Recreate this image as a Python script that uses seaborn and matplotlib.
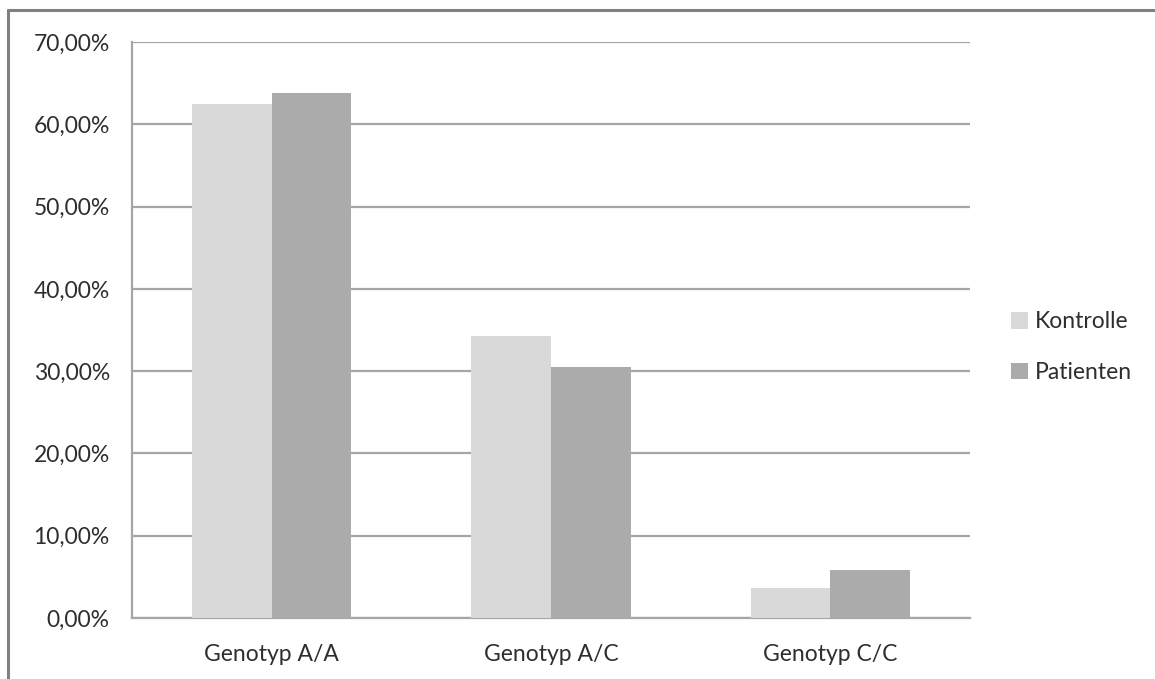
import matplotlib
matplotlib.use("Agg")
import matplotlib.pyplot as plt
from matplotlib.lines import Line2D
from matplotlib.ticker import FuncFormatter, FixedLocator
import seaborn as sns
import pandas as pd

# Genotype frequencies (percent) per group
genotypes = ["Genotyp A/A", "Genotyp A/C", "Genotyp C/C"]
kontrolle = [62.5, 34.3, 3.6]
patienten = [63.8, 30.5, 5.8]
groups = ["Kontrolle", "Patienten"]
y_ticks = [0, 10, 20, 30, 40, 50, 60, 70]

df = pd.DataFrame({
    "Genotyp": genotypes * 2,
    "Anteil": kontrolle + patienten,
    "Gruppe": [groups[0]] * len(genotypes) + [groups[1]] * len(genotypes),
})

sns.set_style("white")
plt.rcParams["font.family"] = ["Lato", "DejaVu Sans"]

W, H = 1155, 679
fig = plt.figure(figsize=(W / 100, H / 100), dpi=100)
ax = fig.add_axes([132 / W, 1 - 618 / H, (970 - 132) / W, (618 - 42) / H])

sns.barplot(
    data=df, x="Genotyp", y="Anteil", hue="Gruppe", ax=ax,
    palette={"Kontrolle": "#d9d9d9", "Patienten": "#ababab"},
    saturation=1, width=0.57, legend=True, zorder=3, linewidth=0,
)

grid_c = "#a6a6a6"
text_c = "#2e2e2e"
fs = 16.5
ax.set_xlim(-0.5, 2.5)
ax.set_ylim(0, 70)
ax.yaxis.set_major_locator(FixedLocator(y_ticks))
ax.yaxis.set_major_formatter(FuncFormatter(lambda v, _: f"{v:.2f}%".replace(".", ",")))
ax.grid(axis="y", color=grid_c, linewidth=1.6, zorder=0)
ax.set_axisbelow(True)

ax.set_xlabel("")
ax.set_ylabel("")
for s in ["top", "right"]:
    ax.spines[s].set_visible(False)
for s in ["left", "bottom"]:
    ax.spines[s].set_color(grid_c)
    ax.spines[s].set_linewidth(1.6)

ax.tick_params(axis="y", which="major", length=6, width=1.6, color=grid_c,
               labelsize=fs, labelcolor=text_c, pad=10)
ax.set_xticks([-0.5, 0.5, 1.5, 2.5], minor=True)
ax.tick_params(axis="x", which="minor", length=8, width=1.6, color=grid_c)
ax.tick_params(axis="x", which="major", length=0, labelsize=fs,
               labelcolor=text_c, pad=19)

handles, labels = ax.get_legend_handles_labels()
ax.legend(
    handles, labels, loc="center left",
    bbox_to_anchor=(990 / W, 1 - 347 / H), bbox_transform=fig.transFigure,
    frameon=False, fontsize=fs, labelcolor=text_c,
    handlelength=0.75, handleheight=0.75, handletextpad=0.3, labelspacing=1.3,
)

# outer chart border (left and top edges)
border_c = "#808080"
fig.add_artist(Line2D([8 / W, 8 / W], [0, 1 - 10 / H], color=border_c,
                      linewidth=2.2, transform=fig.transFigure))
fig.add_artist(Line2D([8 / W, 1], [1 - 10 / H, 1 - 10 / H], color=border_c,
                      linewidth=2.2, transform=fig.transFigure))

fig.savefig("out.png", dpi=100, facecolor="white")
